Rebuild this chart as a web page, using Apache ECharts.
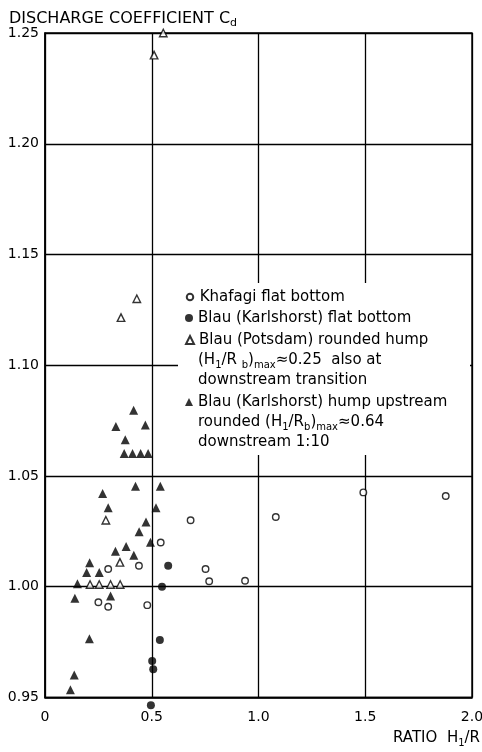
<!DOCTYPE html>
<html>
<head>
<meta charset="utf-8">
<script src="https://cdn.jsdelivr.net/npm/echarts@6/dist/echarts.min.js"></script>
<style>html,body{margin:0;padding:0;background:#fff}#c{width:482px;height:752px}</style>
</head>
<body>
<div id="c"></div>
<script>
const seriesNames = [
  'Khafagi flat bottom',
  'Blau (Karlshorst) flat bottom',
  'Blau (Potsdam) rounded hump',
  'Blau (Karlshorst) hump upstream'
];
const legendExtraLines = [
  '(H{s|1}/R {s|b}){s|max}\u22480.25  also at',
  'downstream transition',
  'rounded (H{s|1}/R{s|b}){s|max}\u22480.64',
  'downstream 1:10'
];
const xAxisTitle = 'RATIO  H{s|1}/R';
const yAxisTitle = 'DISCHARGE COEFFICIENT C{s|d}';
const khafagiX = [0.682, 0.542, 0.440, 0.296, 0.752, 0.769, 0.937, 1.081, 1.491, 1.877, 0.250, 0.296, 0.479];
const khafagiY = [1.030, 1.020, 1.0095, 1.008, 1.008, 1.0025, 1.0027, 1.0315, 1.0426, 1.041, 0.993, 0.991, 0.9917];
const karlFlatX = [0.577, 0.548, 0.538, 0.502, 0.507, 0.496];
const karlFlatY = [1.0095, 1.000, 0.976, 0.9665, 0.9628, 0.9465];
const potsdamX = [0.554, 0.511, 0.430, 0.356, 0.285, 0.351, 0.211, 0.254, 0.307, 0.352];
const potsdamY = [1.250, 1.240, 1.130, 1.1215, 1.030, 1.011, 1.001, 1.001, 1.001, 1.001];
const karlHumpX = [0.415, 0.332, 0.470, 0.376, 0.371, 0.410, 0.448, 0.483, 0.424, 0.540, 0.270, 0.296, 0.520, 0.473,
  0.441, 0.494, 0.330, 0.380, 0.416, 0.209, 0.195, 0.254, 0.152, 0.140, 0.307, 0.208, 0.137, 0.119];
const karlHumpY = [1.0797, 1.0723, 1.073, 1.0664, 1.0602, 1.0602, 1.0602, 1.0602, 1.0454, 1.0454, 1.0421, 1.0357, 1.0357, 1.0292,
  1.0248, 1.0201, 1.016, 1.0182, 1.0142, 1.0108, 1.0064, 1.0064, 1.0014, 0.9948, 0.9958, 0.9765, 0.9602, 0.9535];
const xTickLabels = ['0', '0.5', '1.0', '1.5', '2.0'];
const yTickLabels = ['0.95', '1.00', '1.05', '1.10', '1.15', '1.20', '1.25'];

const FONT = 'DejaVu Sans';
const zip = (xs, ys) => xs.map((x, i) => [x, ys[i]]);
const subRich = { s: { fontSize: 10, fontFamily: FONT, fill: '#000', verticalAlign: 'bottom', lineHeight: 12 } };

const chart = echarts.init(document.getElementById('c'), null, { renderer: 'canvas' });
const openStyle = { color: '#fff', borderColor: '#000', borderWidth: 1.4 };
const fillStyle = { color: '#000', borderColor: '#000', borderWidth: 0 };

const legendCenters = [297, 318, 340, 402];
const legendIcon = [6.5, 8, 8, 8];
const extraY = [360, 380, 422, 442];

chart.setOption({
  backgroundColor: '#fff',
  animation: false,
  title: {
    text: yAxisTitle,
    left: 4, top: 4,
    textStyle: { fontFamily: FONT, fontSize: 16, fontWeight: 'normal', color: '#000', lineHeight: 20,
      rich: { s: { fontSize: 11, fontFamily: FONT, color: '#000', verticalAlign: 'bottom', lineHeight: 14 } } }
  },
  grid: { left: 45, right: 10, top: 33, bottom: 54.5, show: true, borderColor: '#000', borderWidth: 1.4,
    containLabel: false, outerBoundsMode: 'none' },
  xAxis: {
    type: 'value', min: 0, max: 2, interval: 0.5,
    axisLine: { lineStyle: { color: '#000', width: 1.5 } },
    axisTick: { show: false },
    splitLine: { show: true, lineStyle: { color: '#000', width: 1.3 } },
    axisLabel: { fontFamily: FONT, fontSize: 14, color: '#000', margin: 13,
      formatter: (v) => xTickLabels[Math.round(v / 0.5)] }
  },
  yAxis: {
    type: 'value', min: 0.95, max: 1.25, interval: 0.05,
    axisLine: { show: true, lineStyle: { color: '#000', width: 1.5 } },
    axisTick: { show: false },
    splitLine: { show: true, lineStyle: { color: '#000', width: 1.3 } },
    axisLabel: { fontFamily: FONT, fontSize: 14, color: '#000', margin: 6,
      formatter: (v) => yTickLabels[Math.round((v - 0.95) / 0.05)] }
  },
  legend: seriesNames.map((n, i) => ({
    data: [n], left: 189 - legendIcon[i] / 2, top: legendCenters[i] - 7.5, orient: 'vertical', padding: 0,
    itemWidth: legendIcon[i], itemHeight: legendIcon[i], selectedMode: false,
    textStyle: { fontFamily: FONT, fontSize: 15, color: '#000', padding: [0, 0, 0, 8 - legendIcon[i]] }
  })),
  graphic: [
    { type: 'rect', z: 1, silent: true, shape: { x: 178, y: 283, width: 292, height: 172 }, style: { fill: '#fff' } },
    { type: 'text', z: 5, silent: true, x: 480, y: 738,
      style: { text: xAxisTitle, fontFamily: FONT, fontSize: 15, fill: '#000', align: 'right', verticalAlign: 'middle',
        lineHeight: 20, rich: subRich } }
  ].concat(legendExtraLines.map((t, i) => ({
    type: 'text', z: 5, silent: true, x: 198, y: extraY[i],
    style: { text: t, fontFamily: FONT, fontSize: 15, fill: '#000', verticalAlign: 'middle', lineHeight: 20,
      rich: subRich }
  }))),
  series: [
    { name: seriesNames[0], type: 'scatter', clip: false, symbol: 'circle', symbolSize: 6.5,
      itemStyle: openStyle, data: zip(khafagiX, khafagiY) },
    { name: seriesNames[1], type: 'scatter', clip: false, symbol: 'circle', symbolSize: 8,
      itemStyle: fillStyle, data: zip(karlFlatX, karlFlatY) },
    { name: seriesNames[2], type: 'scatter', clip: false, symbol: 'triangle', symbolSize: 7.5,
      itemStyle: openStyle, data: zip(potsdamX, potsdamY) },
    { name: seriesNames[3], type: 'scatter', clip: false, symbol: 'triangle', symbolSize: 9,
      itemStyle: fillStyle, data: zip(karlHumpX, karlHumpY) }
  ]
});
</script>
</body>
</html>
